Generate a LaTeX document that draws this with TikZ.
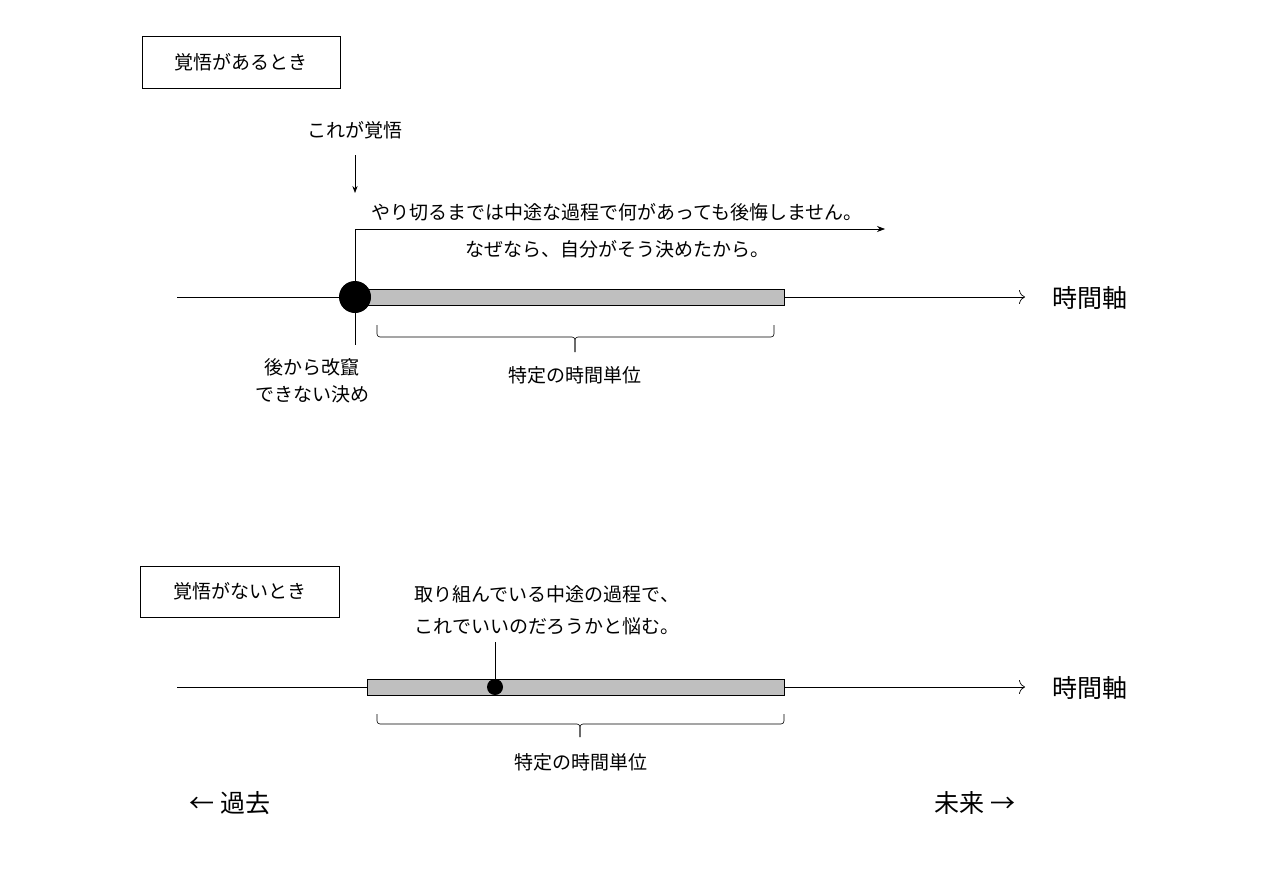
\documentclass[tikz,border=0pt]{standalone}
\usepackage{fontspec}
\setmainfont{Noto Sans CJK JP}
\usetikzlibrary{arrows.meta}
\begin{document}
\begin{tikzpicture}[x=1pt,y=-1pt,
 lbl/.style={font=\fontsize{19}{22}\selectfont, inner sep=0pt},
 big/.style={font=\fontsize{25}{28}\selectfont, inner sep=0pt},
 ax/.style={line width=0.7pt,-{To[length=6pt,width=14pt]}},
 bar/.style={draw,fill=gray!50,line width=1pt},
 br/.style={line width=0.6pt,rounded corners=3pt}]
\useasboundingbox (0,0) rectangle (1280,870);
% top
\node[draw,line width=1pt,minimum width=198pt,minimum height=52pt,lbl] (b1) at (241,62) {覚悟があるとき};
\node[lbl] (k) at (355,130) {これが覚悟};
\coordinate (ka) at (355,155); \coordinate (kb) at (355,193);
\draw[-{Stealth[length=7pt]},line width=0.7pt] (ka)--(kb);
\node[lbl] (t1) at (617,212) {やり切るまでは中途な過程で何があっても後悔しません。};
\node[lbl] (t2) at (617,249) {なぜなら、自分がそう決めたから。};
\coordinate (a1s) at (177,297); \coordinate (a1e) at (1025,297);
\draw[ax] (a1s)--(a1e);
\node[big] (ax1) at (1090,298) {時間軸};
\draw[bar] (355,289) rectangle (784,305);
\coordinate (p1) at (355,229); \coordinate (p2) at (885,229);
\draw[line width=0.7pt,-{Stealth[length=8pt]}] (355,297)--(p1)--(p2);
\node[circle,fill=black,minimum size=32pt,inner sep=0pt] (d1) at (355,297) {};
\coordinate (m1) at (355,345);
\draw[line width=0.7pt] (d1.south)--(m1);
\draw[br] (377,325)--(377,337)--(575,337)--(575,352);
\draw[br] (575,352)--(575,337)--(774,337)--(774,325);
\node[lbl] (u1) at (312,367) {後から改竄};
\node[lbl] (u2) at (312,394) {できない決め};
\node[lbl] (s1) at (575,375) {特定の時間単位};
% bottom
\node[draw,line width=1pt,minimum width=199pt,minimum height=51pt,lbl] (b2) at (239.5,591.5) {覚悟がないとき};
\node[lbl] (n1) at (547,594) {取り組んでいる中途の過程で、};
\node[lbl] (n2) at (547,626) {これでいいのだろうかと悩む。};
\coordinate (a2s) at (177,687); \coordinate (a2e) at (1025,687);
\draw[ax] (a2s)--(a2e);
\node[big] (ax2) at (1090,688) {時間軸};
\draw[bar] (367,679) rectangle (784,695);
\coordinate (q) at (495,642);
\node[circle,fill=black,minimum size=16pt,inner sep=0pt] (d2) at (495,687) {};
\draw[line width=0.7pt] (q)--(d2);
\draw[br] (377,714)--(377,724)--(580,724)--(580,737);
\draw[br] (580,737)--(580,724)--(784,724)--(784,714);
\node[lbl] (s2) at (581,762) {特定の時間単位};
\node[big] (past) at (230,803) {← 過去};
\node[big] (fut) at (975,803) {未来 →};
\end{tikzpicture}
\end{document}
